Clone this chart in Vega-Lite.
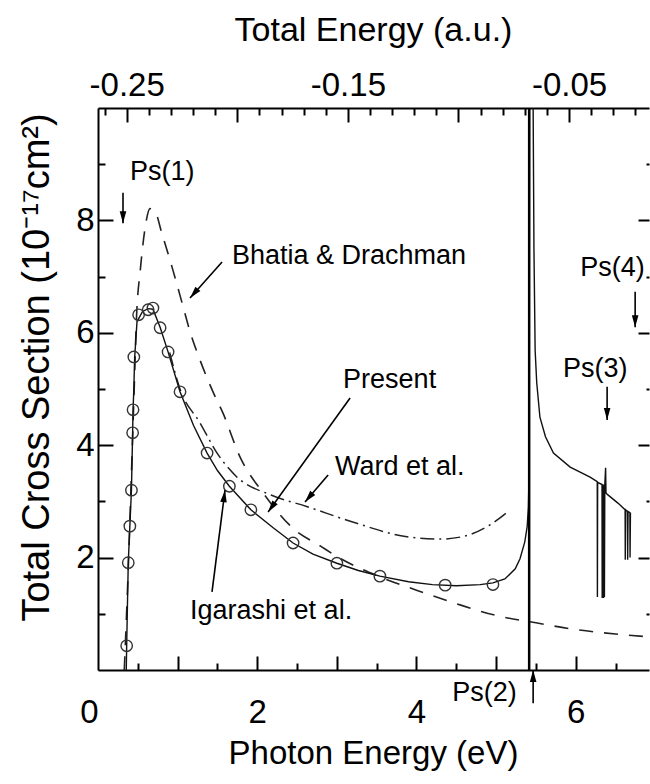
{
  "$schema": "https://vega.github.io/schema/vega-lite/v6.json",
  "autosize": {"type": "none"},
  "width": 551,
  "height": 562,
  "padding": {"left": 98, "top": 108, "right": 1, "bottom": 114},
  "background": "white",
  "view": {"stroke": null},
  "config": {"font": "Liberation Sans"},
  "datasets": {
    "present": [
      {"i":1,"s":1,"x":0.355,"y":0},{"i":2,"s":1,"x":0.36,"y":0.43},{"i":3,"s":1,"x":0.38,"y":1.91},{"i":4,"s":1,"x":0.40,"y":2.56},
      {"i":5,"s":1,"x":0.42,"y":3.2},{"i":6,"s":1,"x":0.435,"y":4.22},{"i":7,"s":1,"x":0.44,"y":4.63},{"i":8,"s":1,"x":0.45,"y":5.0},
      {"i":9,"s":1,"x":0.46,"y":5.55},{"i":10,"s":1,"x":0.49,"y":6.2},{"i":11,"s":1,"x":0.56,"y":6.38},{"i":12,"s":1,"x":0.63,"y":6.43},
      {"i":13,"s":1,"x":0.69,"y":6.42},{"i":14,"s":1,"x":0.78,"y":6.1},{"i":15,"s":1,"x":0.88,"y":5.66},{"i":16,"s":1,"x":1.03,"y":4.95},
      {"i":17,"s":1,"x":1.2,"y":4.35},{"i":18,"s":1,"x":1.37,"y":3.86},{"i":19,"s":1,"x":1.5,"y":3.55},{"i":20,"s":1,"x":1.65,"y":3.27},
      {"i":21,"s":1,"x":1.92,"y":2.85},{"i":22,"s":1,"x":2.2,"y":2.53},{"i":23,"s":1,"x":2.45,"y":2.26},{"i":24,"s":1,"x":2.7,"y":2.06},
      {"i":25,"s":1,"x":3.0,"y":1.9},{"i":26,"s":1,"x":3.27,"y":1.77},{"i":27,"s":1,"x":3.54,"y":1.67},{"i":28,"s":1,"x":3.9,"y":1.57},
      {"i":29,"s":1,"x":4.2,"y":1.52},{"i":30,"s":1,"x":4.5,"y":1.5},{"i":31,"s":1,"x":4.8,"y":1.52},{"i":32,"s":1,"x":4.96,"y":1.55},
      {"i":33,"s":1,"x":5.11,"y":1.62},{"i":34,"s":1,"x":5.24,"y":1.8},{"i":35,"s":1,"x":5.3,"y":1.98},{"i":36,"s":1,"x":5.36,"y":2.28},
      {"i":37,"s":1,"x":5.39,"y":2.55},{"i":38,"s":1,"x":5.405,"y":2.9},{"i":39,"s":1,"x":5.415,"y":3.6},{"i":40,"s":1,"x":5.42,"y":10.5},
      {"i":41,"s":2,"x":5.45,"y":10.5},{"i":42,"s":2,"x":5.465,"y":10},{"i":43,"s":2,"x":5.475,"y":7.5},{"i":44,"s":2,"x":5.49,"y":5.69},
      {"i":45,"s":2,"x":5.51,"y":5.11},{"i":46,"s":2,"x":5.55,"y":4.5},{"i":47,"s":2,"x":5.62,"y":4.15},{"i":48,"s":2,"x":5.72,"y":3.86},
      {"i":49,"s":2,"x":5.93,"y":3.61},{"i":50,"s":2,"x":6.18,"y":3.43},{"i":51,"s":2,"x":6.27,"y":3.35},{"i":52,"s":2,"x":6.272,"y":1.3},
      {"i":53,"s":2,"x":6.275,"y":3.34},{"i":54,"s":2,"x":6.33,"y":3.3},{"i":55,"s":2,"x":6.332,"y":1.28},{"i":56,"s":2,"x":6.336,"y":3.3},
      {"i":57,"s":2,"x":6.34,"y":1.28},{"i":58,"s":2,"x":6.345,"y":3.3},{"i":59,"s":2,"x":6.35,"y":1.28},{"i":60,"s":2,"x":6.355,"y":3.3},
      {"i":61,"s":2,"x":6.36,"y":1.3},{"i":62,"s":2,"x":6.365,"y":3.3},{"i":63,"s":2,"x":6.375,"y":3.6},{"i":64,"s":2,"x":6.38,"y":3.15},
      {"i":65,"s":2,"x":6.4,"y":3.12},{"i":66,"s":2,"x":6.53,"y":2.97},{"i":67,"s":2,"x":6.62,"y":2.85},{"i":68,"s":2,"x":6.622,"y":1.96},
      {"i":69,"s":2,"x":6.627,"y":2.85},{"i":70,"s":2,"x":6.65,"y":2.82},{"i":71,"s":2,"x":6.652,"y":1.96},{"i":72,"s":2,"x":6.657,"y":2.82},
      {"i":73,"s":2,"x":6.68,"y":2.8},{"i":74,"s":2,"x":6.682,"y":2.0},{"i":75,"s":2,"x":6.687,"y":2.8}
    ],
    "igarashi": [
      {"x":0.36,"y":0.43},{"x":0.38,"y":1.91},{"x":0.40,"y":2.56},{"x":0.42,"y":3.2},{"x":0.435,"y":4.22},{"x":0.44,"y":4.63},
      {"x":0.45,"y":5.57},{"x":0.51,"y":6.32},{"x":0.63,"y":6.41},{"x":0.69,"y":6.44},{"x":0.78,"y":6.09},{"x":0.88,"y":5.66},
      {"x":1.03,"y":4.95},{"x":1.37,"y":3.86},{"x":1.65,"y":3.27},{"x":1.92,"y":2.85},{"x":2.45,"y":2.26},{"x":3.0,"y":1.9},
      {"x":3.54,"y":1.67},{"x":4.36,"y":1.51},{"x":4.96,"y":1.52}
    ],
    "bhatia": [
      {"x":0.33,"y":0},{"x":0.38,"y":1.8},{"x":0.42,"y":3.5},{"x":0.45,"y":4.8},{"x":0.486,"y":6.35},{"x":0.53,"y":7.1},
      {"x":0.59,"y":7.85},{"x":0.653,"y":8.21},{"x":0.72,"y":8.15},{"x":0.8,"y":7.78},{"x":0.94,"y":7.12},{"x":1.07,"y":6.46},
      {"x":1.16,"y":6.0},{"x":1.28,"y":5.52},{"x":1.45,"y":4.93},{"x":1.57,"y":4.57},{"x":1.78,"y":3.8},{"x":2.08,"y":3.14},
      {"x":2.45,"y":2.52},{"x":2.8,"y":2.2},{"x":3.0,"y":2.02},{"x":3.5,"y":1.68},{"x":4.0,"y":1.42},{"x":4.5,"y":1.18},
      {"x":5.0,"y":0.97},{"x":5.5,"y":0.84},{"x":6.0,"y":0.72},{"x":6.5,"y":0.64},{"x":6.92,"y":0.59}
    ],
    "ward": [
      {"x":0.9,"y":5.65},{"x":1.03,"y":5.0},{"x":1.28,"y":4.4},{"x":1.5,"y":3.85},{"x":1.74,"y":3.44},{"x":2.18,"y":3.11},
      {"x":2.62,"y":2.91},{"x":3.25,"y":2.61},{"x":3.88,"y":2.37},{"x":4.3,"y":2.33},{"x":4.6,"y":2.38},{"x":4.92,"y":2.58},{"x":5.15,"y":2.82}
    ],
    "arrows": [
      {"x":0.314,"y":8.49,"x2":0.314,"y2":7.95,"dir":180},
      {"x":1.558,"y":7.26,"x2":1.156,"y2":6.62,"dir":221},
      {"x":3.166,"y":4.84,"x2":2.136,"y2":2.81,"dir":215.7},
      {"x":2.89,"y":3.47,"x2":2.6,"y2":2.99,"dir":220},
      {"x":1.432,"y":1.39,"x2":1.595,"y2":3.2,"dir":7.3},
      {"x":5.465,"y":-0.59,"x2":5.465,"y2":0.0,"dir":0},
      {"x":6.394,"y":5.04,"x2":6.394,"y2":4.45,"dir":180},
      {"x":6.746,"y":6.73,"x2":6.746,"y2":6.1,"dir":180}
    ],
    "labels": [
      {"t":"Ps(1)","x":0.402,"y":8.86},
      {"t":"Bhatia & Drachman","x":1.683,"y":7.37},
      {"t":"Present","x":3.078,"y":5.16},
      {"t":"Ward et al.","x":2.977,"y":3.61},
      {"t":"Igarashi et al.","x":1.156,"y":1.05},
      {"t":"Ps(2)","x":4.45,"y":-0.41},
      {"t":"Ps(3)","x":5.84,"y":5.36},
      {"t":"Ps(4)","x":6.055,"y":7.15}
    ],
    "threshold": [{"x":5.415}],
    "topdummy": [{"E":-0.2}]
  },
  "resolve": {"scale": {"x": "independent", "y": "independent"}},
  "layer": [
    {
      "data": {"name": "bhatia"},
      "mark": {"type": "line", "stroke": "#222", "strokeWidth": 1.6, "strokeDash": [14, 11], "interpolate": "monotone"},
      "encoding": {
        "x": {"field": "x", "type": "quantitative", "scale": {"domain": [0, 6.92], "nice": false, "zero": false},
          "axis": {"orient": "bottom", "values": [0, 2, 4, 6], "ticks": false, "domain": true, "domainColor": "black", "domainWidth": 2, "grid": false,
            "labelFont": "Liberation Sans", "labelFontSize": 33, "labelColor": "black", "labelBaseline": "alphabetic", "labelPadding": 52,
            "labelFlush": false, "labelOverlap": false, "format": "d",
            "labelAlign": {"condition": {"test": "datum.value == 0", "value": "right"}, "value": "center"},
            "title": "Photon Energy (eV)", "titleFont": "Liberation Sans", "titleFontSize": 33, "titleFontWeight": "normal", "titleColor": "black",
            "titleBaseline": "alphabetic", "titleY": 93, "titleX": 275}},
        "y": {"field": "y", "type": "quantitative", "scale": {"domain": [0, 10], "nice": false, "zero": false},
          "axis": {"orient": "left", "values": [2, 4, 6, 8], "ticks": false, "domain": true, "domainColor": "black", "domainWidth": 2, "grid": false,
            "labelFont": "Liberation Sans", "labelFontSize": 33, "labelColor": "black", "labelPadding": 4, "labelFlush": false, "labelOverlap": false,
            "title": "Total Cross Section (10⁻¹⁷cm²)", "titleFont": "Liberation Sans", "titleFontSize": 38, "titleFontWeight": "normal", "titleColor": "black",
            "titleAngle": -90, "titleBaseline": "alphabetic", "titleAlign": "center", "titleX": -50, "titleY": 259}}
      }
    },
    {
      "data": {"name": "ward"},
      "mark": {"type": "line", "stroke": "#222", "strokeWidth": 1.5, "strokeDash": [14, 5, 2, 5], "interpolate": "monotone"},
      "encoding": {
        "x": {"field": "x", "type": "quantitative", "scale": {"domain": [0, 6.92], "nice": false, "zero": false},
          "axis": {"orient": "bottom", "values": [1, 2, 3, 4, 5, 6], "ticks": true, "tickSize": -14, "tickWidth": 2, "tickColor": "black", "labels": false, "domain": false, "grid": false, "title": null}},
        "y": {"field": "y", "type": "quantitative", "scale": {"domain": [0, 10], "nice": false, "zero": false},
          "axis": {"orient": "left", "values": [2, 4, 6, 8], "ticks": true, "tickSize": -15, "tickWidth": 2, "tickColor": "black", "labels": false, "domain": false, "grid": false, "title": null}}
      }
    },
    {
      "data": {"name": "present"},
      "mark": {"type": "line", "stroke": "#111", "strokeWidth": 1.4, "clip": true},
      "encoding": {
        "x": {"field": "x", "type": "quantitative", "scale": {"domain": [0, 6.92], "nice": false, "zero": false},
          "axis": {"orient": "bottom", "values": [0.5, 1.5, 2.5, 3.5, 4.5, 5.5, 6.5], "ticks": true, "tickSize": -7, "tickWidth": 2, "tickColor": "black", "labels": false, "domain": false, "grid": false, "title": null}},
        "y": {"field": "y", "type": "quantitative", "scale": {"domain": [0, 10], "nice": false, "zero": false},
          "axis": {"orient": "left", "values": [1, 3, 5, 7, 9], "ticks": true, "tickSize": -7, "tickWidth": 2, "tickColor": "black", "labels": false, "domain": false, "grid": false, "title": null}},
        "detail": {"field": "s", "type": "nominal"},
        "order": {"field": "i", "type": "quantitative"}
      }
    },
    {
      "data": {"name": "igarashi"},
      "mark": {"type": "point", "shape": "circle", "filled": false, "size": 130, "stroke": "#333", "strokeWidth": 1.4, "opacity": 1},
      "encoding": {
        "x": {"field": "x", "type": "quantitative", "scale": {"domain": [0, 6.92], "nice": false, "zero": false}, "axis": null},
        "y": {"field": "y", "type": "quantitative", "scale": {"domain": [0, 10], "nice": false, "zero": false},
          "axis": {"orient": "right", "values": [2, 4, 6, 8], "ticks": true, "tickSize": -11, "tickWidth": 2, "tickColor": "black", "labels": false, "domain": false, "grid": false, "title": null}}
      }
    },
    {
      "data": {"name": "arrows"},
      "mark": {"type": "rule", "stroke": "black", "strokeWidth": 1.6},
      "encoding": {
        "x": {"field": "x", "type": "quantitative", "scale": {"domain": [0, 6.92], "nice": false, "zero": false}, "axis": null},
        "y": {"field": "y", "type": "quantitative", "scale": {"domain": [0, 10], "nice": false, "zero": false},
          "axis": {"orient": "right", "values": [1, 3, 5, 7, 9], "ticks": true, "tickSize": -3, "tickWidth": 2, "tickColor": "black", "labels": false, "domain": false, "grid": false, "title": null}},
        "x2": {"field": "x2"},
        "y2": {"field": "y2"}
      }
    },
    {
      "data": {"name": "arrows"},
      "mark": {"type": "point", "shape": "M0,0L-0.55,2L0.55,2Z", "filled": true, "size": 144, "color": "black", "opacity": 1, "strokeWidth": 0},
      "encoding": {
        "x": {"field": "x2", "type": "quantitative", "scale": {"domain": [0, 6.92], "nice": false, "zero": false}, "axis": null},
        "y": {"field": "y2", "type": "quantitative", "scale": {"domain": [0, 10], "nice": false, "zero": false}, "axis": null},
        "angle": {"field": "dir", "type": "quantitative", "scale": null}
      }
    },
    {
      "data": {"name": "threshold"},
      "mark": {"type": "rule", "stroke": "black", "strokeWidth": 2.5},
      "encoding": {
        "x": {"field": "x", "type": "quantitative", "scale": {"domain": [0, 6.92], "nice": false, "zero": false}, "axis": null}
      }
    },
    {
      "data": {"name": "labels"},
      "mark": {"type": "text", "align": "left", "baseline": "middle", "font": "Liberation Sans", "fontSize": 27, "color": "black"},
      "encoding": {
        "x": {"field": "x", "type": "quantitative", "scale": {"domain": [0, 6.92], "nice": false, "zero": false}, "axis": null},
        "y": {"field": "y", "type": "quantitative", "scale": {"domain": [0, 10], "nice": false, "zero": false}, "axis": null},
        "text": {"field": "t"}
      }
    },
    {
      "data": {"name": "topdummy"},
      "mark": {"type": "point", "opacity": 0},
      "encoding": {
        "x": {"field": "E", "type": "quantitative", "scale": {"domain": [-0.26297, -0.01387], "nice": false, "zero": false},
          "axis": {"orient": "top", "values": [-0.25, -0.15, -0.05], "ticks": false, "domain": true, "domainColor": "black", "domainWidth": 2, "grid": false,
            "labelFont": "Liberation Sans", "labelFontSize": 33, "labelColor": "black", "labelBaseline": "alphabetic", "labelPadding": 13,
            "labelFlush": false, "labelOverlap": false, "labelExpr": "'-' + format(abs(datum.value), '.2f')",
            "title": "Total Energy (a.u.)", "titleFont": "Liberation Sans", "titleFontSize": 34, "titleFontWeight": "normal", "titleColor": "black",
            "titleBaseline": "alphabetic", "titleY": -68, "titleX": 275}}
      }
    },
    {
      "data": {"name": "topdummy"},
      "mark": {"type": "point", "opacity": 0},
      "encoding": {
        "x": {"field": "E", "type": "quantitative", "scale": {"domain": [-0.26297, -0.01387], "nice": false, "zero": false},
          "axis": {"orient": "top", "values": [-0.25, -0.2, -0.15, -0.1, -0.05], "ticks": true, "tickSize": -14, "tickWidth": 2, "tickColor": "black", "labels": false, "domain": false, "grid": false, "title": null}}
      }
    },
    {
      "data": {"name": "topdummy"},
      "mark": {"type": "point", "opacity": 0},
      "encoding": {
        "x": {"field": "E", "type": "quantitative", "scale": {"domain": [-0.26297, -0.01387], "nice": false, "zero": false},
          "axis": {"orient": "top", "values": [-0.26, -0.24, -0.23, -0.22, -0.21, -0.19, -0.18, -0.17, -0.16, -0.14, -0.13, -0.12, -0.11, -0.09, -0.08, -0.07, -0.06, -0.04, -0.03, -0.02], "ticks": true, "tickSize": -7, "tickWidth": 2, "tickColor": "black", "labels": false, "domain": false, "grid": false, "title": null}}
      }
    }
  ]
}
